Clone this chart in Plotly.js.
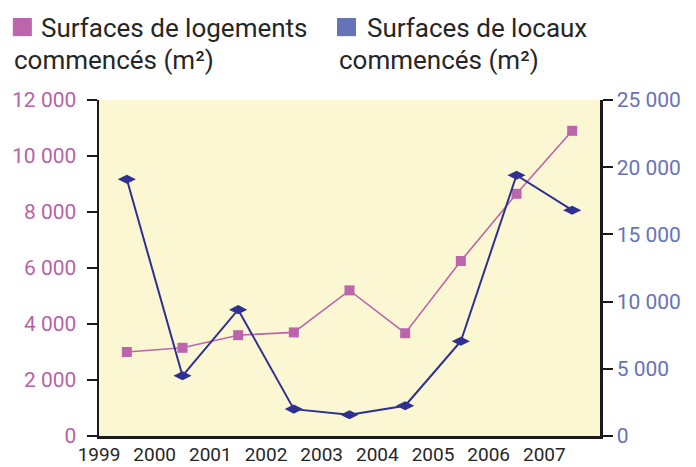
<!DOCTYPE html>
<html>
<head>
<meta charset="utf-8">
<script src="https://cdn.plot.ly/plotly-3.0.1.min.js"></script>
<style>html,body{margin:0;padding:0;background:#fff;}#chart{width:696px;height:467px;}</style>
</head>
<body>
<div id="chart"></div>
<script>
// Data
const years = [1999.5, 2000.5, 2001.5, 2002.5, 2003.5, 2004.5, 2005.5, 2006.5, 2007.5];
const logements = [3000, 3150, 3600, 3700, 5200, 3670, 6250, 8650, 10900];
const locaux = [19100, 4480, 9400, 2000, 1580, 2250, 7050, 19400, 16800];
const xLabelVals = [1999, 2000, 2001, 2002, 2003, 2004, 2005, 2006, 2007];
const xLabelText = ['1999', '2000', '2001', '2002', '2003', '2004', '2005', '2006', '2007'];
const xTickVals = [1999, 2000, 2001, 2002, 2003, 2004, 2005, 2006, 2007, 2008];
const leftTickVals = [0, 2000, 4000, 6000, 8000, 10000, 12000];
const leftTickText = ['0', '2 000', '4 000', '6 000', '8 000', '10 000', '12 000'];
const rightTickVals = [0, 5000, 10000, 15000, 20000, 25000];
const rightTickText = ['0', '5 000', '10 000', '15 000', '20 000', '25 000'];
const legendLogements = ['Surfaces de logements', 'commencés (m²)'];
const legendLocaux = ['Surfaces de locaux', 'commencés (m²)'];

const PINK = '#bc65ad';
const PINK_TXT = '#b862a8';
const BLUE = '#2e3192';
const BLUE_LEG = '#6673b9';
const BLUE_TXT = '#6673b9';
const INK = '#262626';
const AXIS = '#1a1a1a';
const FONT = 'Roboto, "Noto Sans", sans-serif';

const traces = [
  {
    x: years, y: logements, type: 'scatter', mode: 'lines+markers',
    xaxis: 'x', yaxis: 'y',
    line: {color: PINK, width: 1.6},
    marker: {symbol: 'square', size: 10, color: PINK},
    hoverinfo: 'skip'
  },
  {
    x: years, y: locaux, type: 'scatter', mode: 'lines+markers',
    xaxis: 'x', yaxis: 'y2',
    line: {color: BLUE, width: 2},
    marker: {symbol: 'diamond-wide', size: 13, color: BLUE},
    hoverinfo: 'skip'
  }
];

const xRange = [1999, 2008];
const yRange = [0, 12000];
const y2Range = [0, 25000];

const layout = {
  width: 696, height: 467,
  margin: {l: 99, r: 96, t: 100, b: 31, pad: 0},
  paper_bgcolor: '#ffffff',
  plot_bgcolor: '#faf7d2',
  showlegend: false,
  font: {family: FONT, color: INK},
  xaxis: {
    range: xRange, tickmode: 'array', tickvals: xLabelVals, ticktext: xLabelText,
    showgrid: false, zeroline: false,
    showline: true, linecolor: AXIS, linewidth: 2.5,
    ticks: '', ticklabelstandoff: 0,
    tickfont: {size: 19, color: INK, family: FONT},
    anchor: 'y'
  },
  xaxis2: {
    range: xRange, overlaying: 'x', anchor: 'y', side: 'bottom',
    tickmode: 'array', tickvals: xTickVals, showticklabels: false,
    showgrid: false, zeroline: false, showline: false,
    ticks: 'inside', ticklen: 7, tickwidth: 2, tickcolor: AXIS
  },
  xaxis4: {
    range: xRange, overlaying: 'x', anchor: 'y', side: 'bottom',
    tickmode: 'array', tickvals: xTickVals, showticklabels: false,
    showgrid: false, zeroline: false, showline: false,
    ticks: 'outside', ticklen: 5, tickwidth: 2, tickcolor: AXIS
  },
  xaxis3: {
    range: xRange, overlaying: 'x', anchor: 'y', side: 'top',
    showticklabels: false, ticks: '', showgrid: false, zeroline: false,
    showline: true, linecolor: '#b5b5b5', linewidth: 1
  },
  yaxis: {
    range: yRange, tickmode: 'array', tickvals: leftTickVals, ticktext: leftTickText,
    showgrid: false, zeroline: false,
    showline: true, linecolor: AXIS, linewidth: 2.5,
    ticks: 'outside', ticklen: 10, tickwidth: 2, tickcolor: AXIS,
    ticklabelstandoff: 6,
    tickfont: {size: 21, color: PINK_TXT, family: FONT},
    anchor: 'x'
  },
  yaxis2: {
    range: y2Range, overlaying: 'y', side: 'right', anchor: 'x',
    tickmode: 'array', tickvals: rightTickVals, ticktext: rightTickText,
    showgrid: false, zeroline: false,
    showline: true, linecolor: AXIS, linewidth: 2.5,
    ticks: 'outside', ticklen: 10, tickwidth: 2, tickcolor: AXIS,
    tickfont: {size: 21, color: BLUE_TXT, family: FONT}
  },
  yaxis3: {
    range: yRange, overlaying: 'y', side: 'left', anchor: 'x',
    tickmode: 'array', tickvals: leftTickVals, showticklabels: false,
    showgrid: false, zeroline: false, showline: false,
    ticks: 'inside', ticklen: 10, tickwidth: 2, tickcolor: AXIS
  },
  yaxis4: {
    range: y2Range, overlaying: 'y', side: 'right', anchor: 'x',
    tickmode: 'array', tickvals: rightTickVals, showticklabels: false,
    showgrid: false, zeroline: false, showline: false,
    ticks: 'inside', ticklen: 10, tickwidth: 2, tickcolor: AXIS
  },
  shapes: [
    {type: 'rect', xref: 'paper', yref: 'paper', x0: -0.172, x1: -0.134, y0: 1.190, y1: 1.244,
     fillcolor: PINK, line: {width: 0}, layer: 'above'},
    {type: 'rect', xref: 'paper', yref: 'paper', x0: 0.475, x1: 0.513, y0: 1.190, y1: 1.244,
     fillcolor: BLUE_LEG, line: {width: 0}, layer: 'above'}
  ],
  annotations: [
    {text: legendLogements[0], xref: 'paper', yref: 'paper', x: -0.1198, y: 1.214,
     xanchor: 'left', yanchor: 'middle', showarrow: false, font: {size: 26, color: INK, family: FONT}},
    {text: legendLogements[1], xref: 'paper', yref: 'paper', x: -0.1737, y: 1.12,
     xanchor: 'left', yanchor: 'middle', showarrow: false, font: {size: 26, color: INK, family: FONT}},
    {text: legendLocaux[0], xref: 'paper', yref: 'paper', x: 0.531, y: 1.214,
     xanchor: 'left', yanchor: 'middle', showarrow: false, font: {size: 26, color: INK, family: FONT}},
    {text: legendLocaux[1], xref: 'paper', yref: 'paper', x: 0.475, y: 1.12,
     xanchor: 'left', yanchor: 'middle', showarrow: false, font: {size: 26, color: INK, family: FONT}}
  ]
};

Plotly.newPlot('chart', traces, layout, {staticPlot: true, displayModeBar: false});
</script>
</body>
</html>
